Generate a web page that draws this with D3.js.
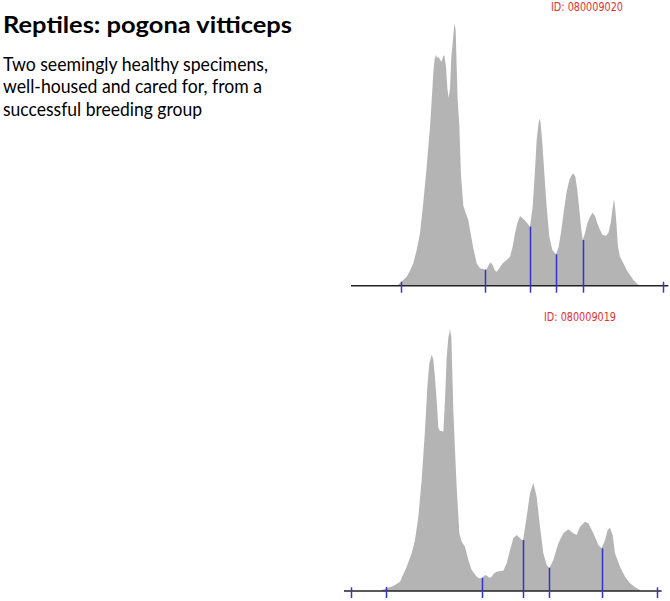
<!DOCTYPE html>
<html>
<head>
<meta charset="utf-8">
<script src="https://cdn.jsdelivr.net/npm/d3@7/dist/d3.min.js"></script>
<style>
html,body{margin:0;padding:0;background:#fff;}
svg{display:block;}
</style>
</head>
<body>
<svg id="chart" width="670" height="601"></svg>
<script>
// ---------- DATA ----------
const titleText = "Reptiles: pogona vitticeps";
const subtitleLines = ["Two seemingly healthy specimens,", "well-housed and cared for, from a", "successful breeding group"];

// Specimen 1 (ID 080009020): channel position vs. relative count
const topId = "ID: 080009020";
const topX = [170,183,200,210,220,230,240,250,260,270,276,280,284,288,292,296,300,305,309,313,318,322,326,330,334,338,343,347,350,353,358,363,370,380,385,390,400,410,420,432,440,446,452,458,465,470,478,488,500,510,518,525,532,540,548,558,570,578,585,590,595,598,602,607,613,620,628,637,648,656,664,672,680,688,695,700,706,712,718,724,728,735,742,750,758,765,772,780,788,797,805,812,818,822,826,830,834,840,850,860,870,880,890,898];
const topY = [0,10,27,45,67,107,157,250,357,477,570,640,680,692,682,687,677,672,687,692,657,592,562,592,687,727,787,767,657,557,480,330,240,210,197,167,112,67,52,49,50,62,70,62,45,42,52,67,77,87,117,157,187,209,202,192,177,237,347,437,482,502,487,427,337,237,147,107,94,117,167,227,282,317,332,337,327,287,227,167,137,157,187,207,219,209,187,167,152,150,157,187,232,260,227,177,117,87,67,47,32,17,7,0];
const topMarkX = [183,435,571,648,728,970];
const topMarkY = [12,47,177,94,137,12];
const topAxisExtent = [33,985];

// Specimen 2 (ID 080009019)
const botId = "ID: 080009019";
const botX = [120,139,160,180,200,215,225,235,245,255,262,268,275,280,285,290,295,300,305,310,315,320,325,330,334,340,345,350,358,365,375,385,395,410,418,426,435,442,448,455,462,470,480,490,500,510,520,530,540,549,560,570,580,590,600,610,620,628,640,655,670,685,700,710,720,735,745,760,775,785,795,803,810,818,825,840,855,870,885,900];
const botY = [0,8,15,28,73,113,153,223,333,483,613,683,708,695,640,573,490,480,480,478,573,700,760,785,760,543,423,313,173,148,133,93,63,43,38,38,48,45,40,43,53,58,60,61,83,123,158,168,158,151,223,293,325,283,193,113,78,68,93,143,173,185,173,168,193,208,203,173,138,128,153,183,190,168,113,73,43,23,11,3];
const botMarkX = [33,139,426,549,628,785,951];
const botMarkY = [11,12,40,153,70,128,11];
const botAxisExtent = [12,965];

// ---------- DRAW ----------
const svg = d3.select("#chart");
const x = d3.scaleLinear().domain([0, 990]).range([340, 670]);

svg.append("text")
  .attr("x", 3).attr("y", 33)
  .attr("font-family", "Lato, 'Open Sans', sans-serif")
  .attr("font-weight", "bold").attr("font-size", 23.5)
  .attr("fill", "#000")
  .attr("textLength", 289).attr("lengthAdjust", "spacingAndGlyphs")
  .text(titleText);

const subW = [265, 259, 199];
const subY = [70.5, 93, 115.5];
subtitleLines.forEach((t, i) => {
  svg.append("text")
    .attr("x", 3).attr("y", subY[i])
    .attr("font-family", "Lato, 'Open Sans', sans-serif")
    .attr("font-size", 19.5).attr("fill", "#000")
    .attr("textLength", subW[i]).attr("lengthAdjust", "spacingAndGlyphs")
    .text(t);
});

function drawPanel(xs, ys, markX, markY, extent, baseline, id, idX, idY) {
  const y = d3.scaleLinear().domain([0, 900]).range([baseline, baseline - 300]);
  const pts = xs.map((v, i) => [v, ys[i]]);
  const area = d3.area()
    .x(d => x(d[0]))
    .y0(y(0))
    .y1(d => y(d[1]))
    .curve(d3.curveLinear);
  const g = svg.append("g");
  g.append("path").datum(pts).attr("d", area).attr("fill", "#b4b4b4").attr("stroke", "none");
  g.append("line")
    .attr("x1", x(extent[0])).attr("x2", x(extent[1]))
    .attr("y1", y(0)).attr("y2", y(0))
    .attr("stroke", "#222").attr("stroke-width", 1.5);
  g.selectAll("line.mark").data(markX).enter().append("line")
    .attr("class", "mark")
    .attr("x1", d => Math.round(x(d)) + 0.5).attr("x2", d => Math.round(x(d)) + 0.5)
    .attr("y1", (d, i) => y(markY[i])).attr("y2", y(-21))
    .attr("stroke", "#3434c8").attr("stroke-width", 1.5);
  svg.append("text")
    .attr("x", idX).attr("y", idY)
    .attr("font-family", "'DejaVu Sans Condensed', 'Liberation Sans', Arial, sans-serif")
    .attr("font-size", 11.5).attr("fill", "#e8302e")
    .attr("textLength", 72).attr("lengthAdjust", "spacingAndGlyphs")
    .text(id);
}

drawPanel(topX, topY, topMarkX, topMarkY, topAxisExtent, 285.7, topId, 551, 11);
drawPanel(botX, botY, botMarkX, botMarkY, botAxisExtent, 591, botId, 544, 320.5);
</script>
</body>
</html>
